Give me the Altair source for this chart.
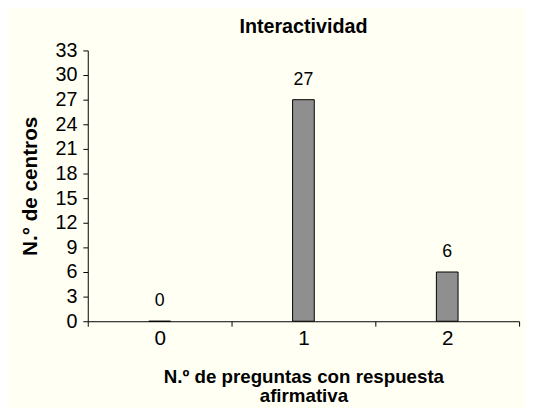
import altair as alt
import pandas as pd

categories = ["0", "1", "2"]
values = [0, 27, 6]

df = pd.DataFrame({"cat": categories, "val": values})

FONT = "Liberation Sans"

x = alt.X("cat:N", sort=categories,
          scale=alt.Scale(paddingInner=0, paddingOuter=0),
          axis=alt.Axis(title=["N.º de preguntas con respuesta", "afirmativa"],
                        labelAngle=0, tickBand="extent", labelFontSize=21,
                        labelPadding=2, tickSize=5, titleFontSize=19,
                        titleFontWeight="bold", titlePadding=19,
                        titleLineHeight=20))
y = alt.Y("val:Q",
          scale=alt.Scale(domain=[0, 33], nice=False),
          axis=alt.Axis(title="N.° de centros", values=list(range(0, 34, 3)),
                        grid=False, labelFontSize=20, tickSize=5, labelPadding=6,
                        titleFontSize=21, titleFontWeight="bold", titlePadding=15))

bars = alt.Chart(df).mark_bar(size=22, color="#8f8f8f", stroke="black",
                              strokeWidth=1).encode(x=x, y=y)
labels = alt.Chart(df).mark_text(dy=-20, fontSize=18, font=FONT,
                                 color="black").encode(x=x, y=y, text="val:Q")

chart = (bars + labels).properties(
    width=438, height=275,
    title=alt.TitleParams("Interactividad", fontSize=20, fontWeight="bold",
                          font=FONT, anchor="middle", offset=4, color="black"),
    autosize=alt.AutoSizeParams(type="none"),
    padding={"left": 81, "top": 40, "right": 7, "bottom": 85},
    background="#fffff4",
).configure_view(stroke=None).configure_axis(
    labelFont=FONT, titleFont=FONT, labelColor="black", titleColor="black",
    domainColor="black", tickColor="black"
)

chart.save("out.html", embed_options={"renderer": "svg", "actions": False})
